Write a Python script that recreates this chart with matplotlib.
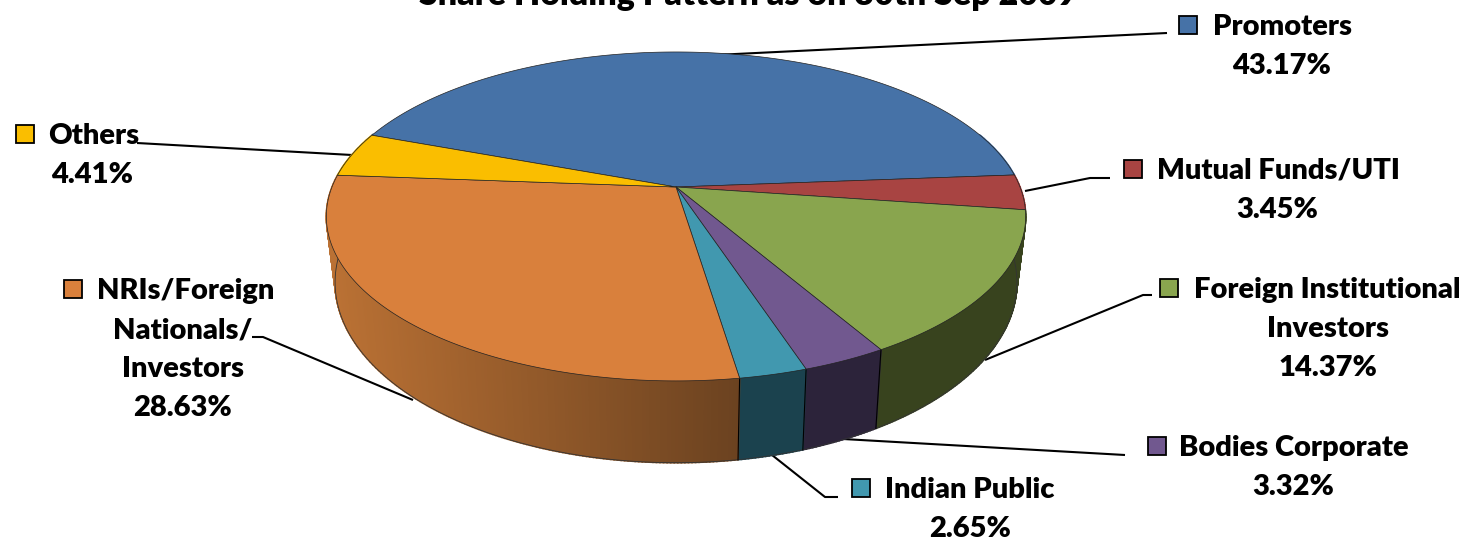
import numpy as np
import matplotlib
matplotlib.use("Agg")
import matplotlib.pyplot as plt
from matplotlib.patches import Polygon, Rectangle

TITLE = "Share Holding Pattern as on 30th Sep 2009"
categories = ["Promoters", "Mutual Funds/UTI", "Foreign Institutional Investors",
              "Bodies Corporate", "Indian Public", "NRIs/Foreign Nationals/ Investors", "Others"]
shares = [43.17, 3.45, 14.37, 3.32, 2.65, 28.63, 4.41]
top_colors = ["#4672A7", "#A84442", "#89A54E", "#71588F", "#4198AF", "#D9803C", "#FABE00"]
wall_left = ["#4672A7", "#A84442", "#38431E", "#2C233A", "#1F4A57", "#BA7134", "#C99800"]
wall_right = ["#4672A7", "#A84442", "#38431E", "#2C233A", "#1B424E", "#6B4220", "#C99800"]
label_lines = [["Promoters", "43.17%"], ["Mutual Funds/UTI", "3.45%"],
               ["Foreign Institutional", "Investors", "14.37%"], ["Bodies Corporate", "3.32%"],
               ["Indian Public", "2.65%"], ["NRIs/Foreign", "Nationals/", "Investors", "28.63%"],
               ["Others", "4.41%"]]

# layout: (first-line left x, first-line baseline, centre x of the following lines, swatch centre x)
label_pos = [(1213, 35, 1282, 1188), (1157, 179, 1277, 1133), (1194, 298, 1328, 1169),
             (1179, 456, 1293, 1157), (885, 498, 970, 861), (97, 299, 183, 73), (48, 144, 92, 25)]
leaders = [[(715, 55), (1167, 33)],
           [(1025, 191), (1090, 178), (1110, 178)],
           [(985, 360), (1143, 295), (1152, 295)],
           [(843, 439), (1125, 455)],
           [(772, 455), (825, 497), (838, 497)],
           [(413, 400), (263, 337), (252, 337)],
           [(352, 155), (137, 143)]]

CX, CY, A, B, K = 676.0, 187.0, 344.0, 159.2, 0.179
SX, SY, DY = 0.975, 1.097, 63.0
START = 4.4 + shares[0] * 3.6  # first slice starts here, running clockwise
FONT_W = "heavy"
LABEL_SIZE = 21


def rim(deg, lower=False):
    t = np.radians(deg)
    u, v = np.cos(t), np.sin(t)
    w = 1 + K * v
    x, y = A * u / w, -B * v / w
    if lower:
        return CX + SX * x, CY + DY + SY * y
    return CX + x, CY + y


plt.rcParams["font.family"] = ["Lato", "DejaVu Sans"]
fig = plt.figure(figsize=(14.66, 5.39), dpi=100)
ax = fig.add_axes([0, 0, 1, 1])
ax.set_xlim(0, 1466)
ax.set_ylim(539, 0)
ax.axis("off")

ax.text(748, 5, TITLE, ha="center", va="baseline", fontsize=24.5, fontweight=FONT_W, color="black")

for pts in leaders:
    xs, ys = zip(*pts)
    ax.plot(xs, ys, color="black", lw=1.5, zorder=1, solid_capstyle="butt")

fracs = np.array(shares) * 3.6
ends = START - np.cumsum(fracs)
starts = ends + fracs
x_lo, x_hi = CX - 345, CX + 65


def mix(c1, c2, f):
    a, b = np.array(matplotlib.colors.to_rgb(c1)), np.array(matplotlib.colors.to_rgb(c2))
    return tuple(a + (b - a) * f)


# side wall: fine strips, each shaded by horizontal position
for s, e, cl, cr in zip(starts, ends, wall_left, wall_right):
    angs = np.linspace(s, e, max(int(abs(s - e) * 2), 2) + 1)
    for a0, a1 in zip(angs[:-1], angs[1:]):
        if np.sin(np.radians((a0 + a1) / 2)) > 0.35:
            continue
        p0, p1 = rim(a0), rim(a1)
        q0, q1 = rim(a0, True), rim(a1, True)
        f = np.clip(((p0[0] + p1[0]) / 2 - x_lo) / (x_hi - x_lo), 0, 1)
        c = mix(cl, cr, f)
        ax.add_patch(Polygon([p0, p1, q1, q0], closed=True, fc=c, ec=c, lw=1.2, zorder=2))

# lower rim and visible wall edges
ang_all = np.linspace(0, -180, 400)
lx, ly = rim(ang_all, True)
ax.plot(lx, ly, color="#333333", lw=0.6, zorder=3)
for e in ends:
    if np.sin(np.radians(e)) < -0.6:
        p, q = rim(e), rim(e, True)
        ax.plot([p[0], q[0]], [p[1], q[1]], color="black", lw=0.8, zorder=3)

# top surface
for s, e, c in zip(starts, ends, top_colors):
    angs = np.linspace(s, e, 200)
    xs, ys = rim(angs)
    ax.add_patch(Polygon(np.column_stack([np.r_[CX, xs], np.r_[CY, ys]]), closed=True,
                         fc=c, ec="#222222", lw=0.5, zorder=4, joinstyle="round"))

# labels
LINE = 39
for lines, (lx0, by, cx, sw), c in zip(label_lines, label_pos, top_colors):
    ax.text(lx0, by, lines[0], ha="left", va="baseline", fontsize=LABEL_SIZE, fontweight=FONT_W, color="black", zorder=6)
    for i, t in enumerate(lines[1:], 1):
        ax.text(cx, by + LINE * i, t, ha="center", va="baseline", fontsize=LABEL_SIZE, fontweight=FONT_W, color="black", zorder=6)
    ax.add_patch(Rectangle((sw - 9, by - 19), 18, 18, fc=c, ec="black", lw=1.3, zorder=6))

fig.savefig("out.png", dpi=100)
